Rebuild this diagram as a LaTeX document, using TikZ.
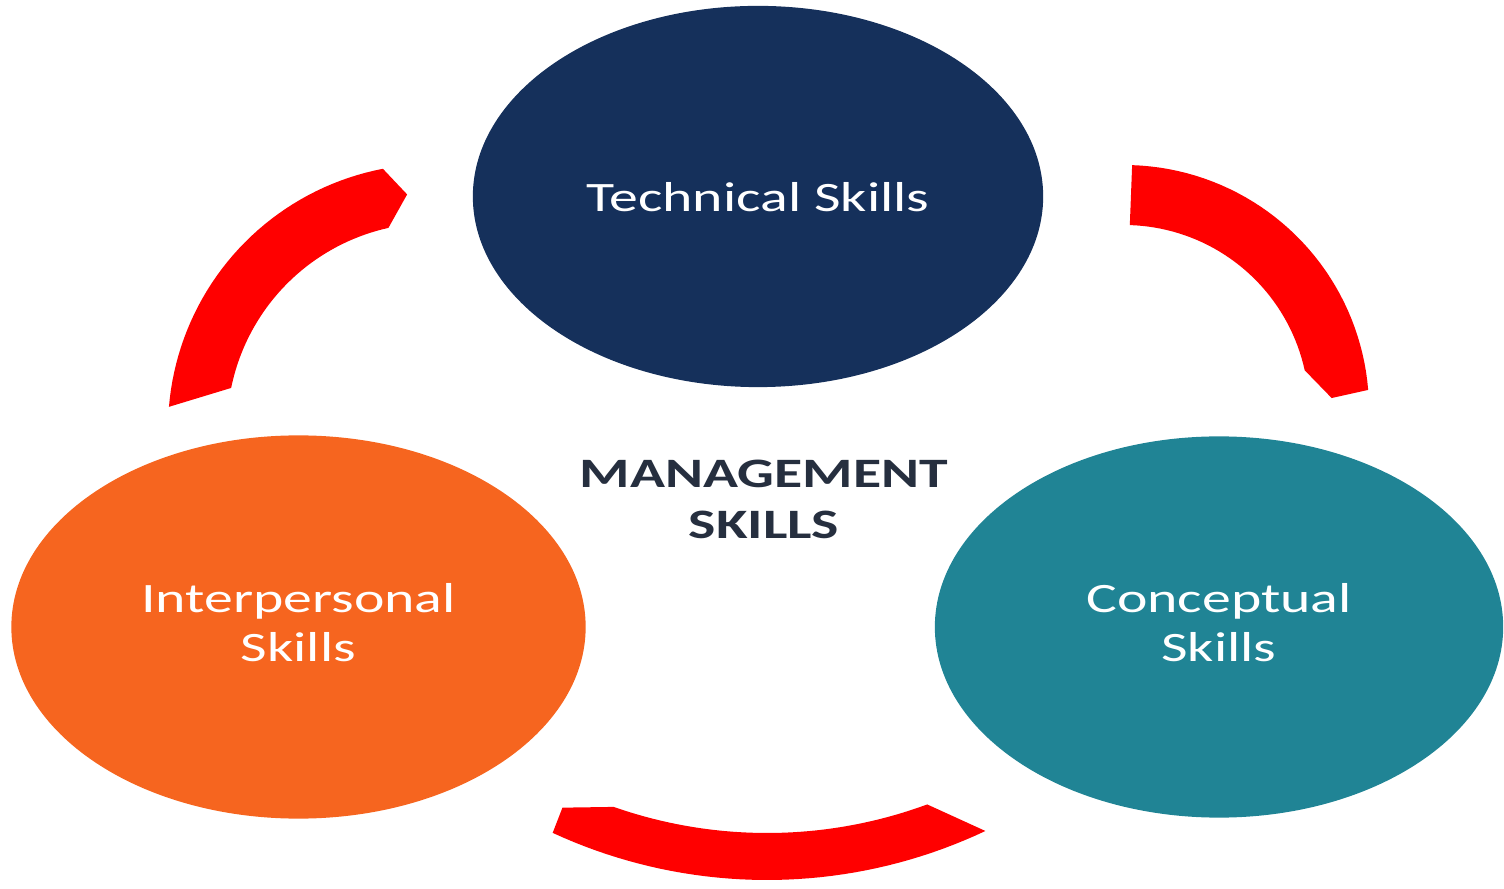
\documentclass[tikz,border=0pt]{standalone}
\usepackage{fontspec}
\setmainfont{Carlito}
\usetikzlibrary{shapes.geometric}

\definecolor{technavy}{HTML}{15305B}
\definecolor{interorange}{HTML}{F6651F}
\definecolor{conceptteal}{HTML}{208495}
\definecolor{cyclered}{HTML}{FF0000}
\definecolor{titledark}{HTML}{262F3F}

% stretch text sideways like the picture
\newcommand{\widetext}[1]{\scalebox{1.38}[1]{\begin{tabular}{@{}c@{}}#1\end{tabular}}}

\begin{document}
\begin{tikzpicture}[x=0.01cm, y=-0.01cm,
    skill/.style={ellipse, inner sep=0pt, minimum width=5.70cm, minimum height=3.81cm,
        text=white, font=\fontsize{11.9}{13.9}\selectfont},
    band/.style={fill=cyclered},
    curve/.style={samples=40, variable=\t}]
    \useasboundingbox (0,0) rectangle (1504,889);

    % left band, up to Technical Skills
    \fill[band] plot[curve, domain=184.8:259.1] ({433+265*cos(\t)}, {429+265*sin(\t)})
        -- ({433+236*cos(263.7)}, {429+236*sin(263.7)})
        -- plot[curve, domain=257.5:191.5] ({433+206*cos(\t)}, {429+206*sin(\t)}) -- cycle;
    % right band, down to Conceptual Skills
    \fill[band] plot[curve, domain=-88.1:-4.7] ({1124+245*cos(\t)}, {410+245*sin(\t)})
        -- ({1124+208*cos(-3.3)}, {410+208*sin(-3.3)})
        -- plot[curve, domain=-12.4:-88.2] ({1124+185*cos(\t)}, {410+185*sin(\t)}) -- cycle;
    % bottom band, back to Interpersonal Skills
    \fill[band] plot[curve, domain=64.7:114.8] ({767+511*cos(\t)}, {369+511*sin(\t)})
        -- ({767+484*cos(115)}, {369+484*sin(115)})
        -- plot[curve, domain=109.3:69.8] ({767+464*cos(\t)}, {369+464*sin(\t)}) -- cycle;

    \node[skill, fill=technavy] (tech) at (758,196.5) {\raisebox{-0.05cm}[\height][\depth]{\widetext{Technical Skills}}};
    \node[skill, fill=interorange, minimum width=5.74cm, minimum height=3.83cm] (inter) at (298.5,627) {\widetext{Interpersonal\\Skills}};
    \node[skill, fill=conceptteal, minimum width=5.68cm] (concept) at (1219,627) {\widetext{Conceptual\\Skills}};

    \node[text=titledark, font=\fontsize{11.9}{14.3}\selectfont\bfseries] (mgmt) at (764,503) {\widetext{MANAGEMENT\\SKILLS}};
\end{tikzpicture}
\end{document}
